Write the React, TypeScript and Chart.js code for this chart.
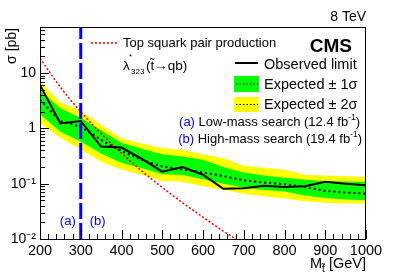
import React, { useEffect, useRef } from "react";
import { Chart, registerables } from "chart.js";

Chart.register(...registerables);

// ---- data ----
const masses = [200, 250, 300, 350, 400, 450, 500, 550, 600, 650, 700, 750, 800, 850, 900, 950, 1000];
const observed = [6.1, 1.23, 1.36, 0.47, 0.45, 0.28, 0.165, 0.2, 0.145, 0.081, 0.083, 0.092, 0.087, 0.09, 0.108, 0.1, 0.094];
const expected = [3.3, 1.35, 1.07, 0.62, 0.39, 0.27, 0.205, 0.18, 0.16, 0.137, 0.115, 0.105, 0.098, 0.088, 0.074, 0.069, 0.066];
const exp1Up = [4.9, 2.3, 1.55, 0.92, 0.55, 0.43, 0.34, 0.31, 0.27, 0.2, 0.16, 0.14, 0.128, 0.118, 0.112, 0.11, 0.108];
const exp1Down = [1.8, 0.87, 0.58, 0.35, 0.24, 0.19, 0.148, 0.143, 0.12, 0.1, 0.085, 0.077, 0.072, 0.061, 0.055, 0.052, 0.05];
const exp2Up = [7.0, 3.0, 2.05, 1.18, 0.66, 0.535, 0.44, 0.405, 0.34, 0.29, 0.21, 0.195, 0.178, 0.145, 0.14, 0.136, 0.133];
const exp2Down = [1.25, 0.68, 0.42, 0.25, 0.18, 0.145, 0.112, 0.108, 0.09, 0.078, 0.066, 0.059, 0.054, 0.048, 0.045, 0.044, 0.044];
const stopMasses = [200, 250, 300, 350, 400, 450, 500, 550, 600, 650, 700];
const stopXsec = [18.5, 5.57, 1.99, 0.807, 0.357, 0.169, 0.0856, 0.0452, 0.0248, 0.0139, 0.00815];
const boundaryMass = 300;
const xMin = 200;
const xMax = 1000;
const yMin = 0.01;
const yMax = 68;
const yTickValues = [0.01, 0.1, 1, 10];
const yTickLabels = ["10\u207B\u00B2", "10\u207B\u00B9", "1", "10"];

const FONT = "'Liberation Sans', Arial, Helvetica, sans-serif";
const BLUE = "#0000ff";

const pts = (xs: number[], ys: number[]) => xs.map((x, i) => ({ x, y: ys[i] }));

function drawPieces(ctx: CanvasRenderingContext2D, pieces: any[], xRight: number, baseline: number) {
  let total = 0;
  for (const p of pieces) {
    ctx.font = p.font;
    total += ctx.measureText(p.text).width;
  }
  let x = xRight - total;
  for (const p of pieces) {
    ctx.font = p.font;
    ctx.fillStyle = p.color || "#000";
    ctx.textAlign = "left";
    ctx.fillText(p.text, x, baseline + (p.dy || 0));
    x += ctx.measureText(p.text).width;
  }
}

const decorPlugin = {
  id: "decor",
  afterDraw(chart: any) {
    const { ctx, chartArea: a, scales } = chart;
    const xs = scales.x;
    const ys = scales.y;
    ctx.save();
    // frame
    ctx.strokeStyle = "#000";
    ctx.lineWidth = 1;
    ctx.setLineDash([]);
    ctx.strokeRect(a.left + 0.5, a.top + 0.5, a.right - a.left - 1, a.bottom - a.top);
    // y ticks (inward)
    ctx.beginPath();
    for (let k = -2; k <= 1; k++) {
      for (let m = 1; m <= 9; m++) {
        const v = m * Math.pow(10, k);
        if (v < yMin || v > yMax) continue;
        const py = Math.round(ys.getPixelForValue(v)) + 0.5;
        const len = m === 1 ? 9 : 5;
        ctx.moveTo(a.left, py);
        ctx.lineTo(a.left + len, py);
      }
    }
    // x ticks (inward)
    for (let v = xMin; v <= xMax; v += 20) {
      const px = Math.round(xs.getPixelForValue(v)) + 0.5;
      const len = v % 100 === 0 ? 9 : 5;
      ctx.moveTo(px, a.bottom);
      ctx.lineTo(px, a.bottom - len);
    }
    ctx.stroke();

    ctx.textBaseline = "alphabetic";
    // 8 TeV
    ctx.fillStyle = "#000";
    ctx.font = `14px ${FONT}`;
    ctx.textAlign = "right";
    ctx.fillText("8 TeV", a.right, 21);

    // y title
    ctx.save();
    ctx.translate(16, a.top + 1);
    ctx.rotate(-Math.PI / 2);
    ctx.textAlign = "right";
    ctx.font = `14px ${FONT}`;
    ctx.fillText("\u03C3 [pb]", 0, 0);
    ctx.restore();

    // x title
    drawPieces(ctx, [
      { text: "M", font: `14.5px ${FONT}` },
      { text: "t\u0303", font: `10px ${FONT}`, dy: 4 },
      { text: " [GeV]", font: `14.5px ${FONT}` },
    ], a.right, 268);

    // red legend
    ctx.strokeStyle = "#ff0000";
    ctx.lineWidth = 1.5;
    ctx.setLineDash([2, 2]);
    ctx.beginPath();
    ctx.moveTo(91, 43);
    ctx.lineTo(117, 43);
    ctx.stroke();
    ctx.setLineDash([]);
    ctx.fillStyle = "#000";
    ctx.textAlign = "left";
    ctx.font = `13px ${FONT}`;
    ctx.fillText("Top squark pair production", 123, 47);

    // lambda text
    ctx.textAlign = "left";
    ctx.font = `13.5px ${FONT}`;
    ctx.fillText("\u03BB", 123, 70);
    ctx.font = `8px ${FONT}`;
    ctx.fillText("*", 129, 59);
    ctx.fillText("323", 131, 74);
    ctx.font = `13.5px ${FONT}`;
    ctx.fillText("(t\u0303\u2192qb)", 146, 70);

    // CMS
    ctx.font = `bold 19px ${FONT}`;
    ctx.textAlign = "right";
    ctx.fillText("CMS", 352, 52);

    // observed legend
    ctx.strokeStyle = "#000";
    ctx.lineWidth = 2;
    ctx.beginPath();
    ctx.moveTo(235, 63);
    ctx.lineTo(258, 63);
    ctx.stroke();
    ctx.textAlign = "left";
    ctx.font = `14.5px ${FONT}`;
    ctx.fillText("Observed limit", 264, 69);

    // expected bands legend
    ctx.fillStyle = "#00ff00";
    ctx.fillRect(234, 76, 25, 16);
    ctx.fillStyle = "#ffff00";
    ctx.fillRect(234, 97, 25, 15);
    ctx.strokeStyle = "#000";
    ctx.lineWidth = 1.2;
    ctx.setLineDash([1.5, 2]);
    ctx.beginPath();
    ctx.moveTo(236, 84);
    ctx.lineTo(258, 84);
    ctx.moveTo(236, 104.5);
    ctx.lineTo(258, 104.5);
    ctx.stroke();
    ctx.setLineDash([]);
    ctx.fillStyle = "#000";
    ctx.font = `14.5px ${FONT}`;
    ctx.fillText("Expected \u00B1 1\u03C3", 264, 89);
    ctx.fillText("Expected \u00B1 2\u03C3", 264, 109);

    // (a), (b) lines
    const f = `13px ${FONT}`;
    const fs = `8.5px ${FONT}`;
    drawPieces(ctx, [
      { text: "(a)", font: f, color: BLUE },
      { text: " Low-mass search (12.4 fb", font: f },
      { text: "-1", font: fs, dy: -6 },
      { text: ")", font: f },
    ], 360, 126);
    drawPieces(ctx, [
      { text: "(b)", font: f, color: BLUE },
      { text: " High-mass search (19.4 fb", font: f },
      { text: "-1", font: fs, dy: -6 },
      { text: ")", font: f },
    ], 362, 143);

    // (a) (b) near boundary
    ctx.fillStyle = BLUE;
    ctx.font = `13px ${FONT}`;
    const bx = xs.getPixelForValue(boundaryMass);
    ctx.textAlign = "right";
    ctx.fillText("(a)", bx - 5, 225);
    ctx.textAlign = "left";
    ctx.fillText("(b)", bx + 9, 225);
    ctx.restore();
  },
};

export default function App() {
  const ref = useRef<HTMLCanvasElement>(null);
  useEffect(() => {
    if (!ref.current) return;
    const chart = new Chart(ref.current, {
      type: "line",
      data: {
        datasets: [
          { label: "boundary", data: [{ x: boundaryMass, y: yMin }, { x: boundaryMass, y: yMax }], borderColor: BLUE, borderWidth: 3, borderDash: [16, 4], pointRadius: 0, fill: false, order: 0 },
          { label: "Observed", data: pts(masses, observed), borderColor: "#000", borderWidth: 2, pointRadius: 0, fill: false, order: 1 },
          { label: "Expected", data: pts(masses, expected), borderColor: "#000", borderWidth: 2, borderDash: [2, 3], pointRadius: 0, fill: false, order: 2 },
          { label: "Stop", data: pts(stopMasses, stopXsec), borderColor: "#ff0000", borderWidth: 1.5, borderDash: [2, 2], pointRadius: 0, fill: false, order: 3, cubicInterpolationMode: "monotone" },
          { label: "g+", data: pts(masses, exp1Up), borderWidth: 0, borderColor: "rgba(0,0,0,0)", backgroundColor: "#00ff00", pointRadius: 0, fill: "+1", order: 4 },
          { label: "g-", data: pts(masses, exp1Down), borderWidth: 0, borderColor: "rgba(0,0,0,0)", pointRadius: 0, fill: false, order: 5 },
          { label: "y+", data: pts(masses, exp2Up), borderWidth: 0, borderColor: "rgba(0,0,0,0)", backgroundColor: "#ffff00", pointRadius: 0, fill: "+1", order: 6 },
          { label: "y-", data: pts(masses, exp2Down), borderWidth: 0, borderColor: "rgba(0,0,0,0)", pointRadius: 0, fill: false, order: 7 },
        ],
      },
      options: {
        animation: false,
        responsive: false,
        devicePixelRatio: 1,
        layout: { padding: { left: 0, right: 41, top: 27, bottom: 0 } },
        plugins: { legend: { display: false }, tooltip: { enabled: false } },
        scales: {
          x: {
            type: "linear",
            min: xMin,
            max: xMax,
            grid: { display: false, drawTicks: false },
            border: { display: false },
            ticks: { stepSize: 100, padding: 3, color: "#000", font: { family: FONT, size: 14.5 }, maxRotation: 0, callback: (v: any) => String(v) },
            afterFit: (s: any) => { s.height = 37; },
          },
          y: {
            type: "logarithmic",
            min: yMin,
            max: yMax,
            grid: { display: false, drawTicks: false },
            border: { display: false },
            ticks: {
              padding: 4,
              color: "#000",
              font: { family: FONT, size: 14 },
              callback: (v: any) => {
                const i = yTickValues.findIndex((t) => Math.abs(t - v) < t * 1e-6);
                return i >= 0 ? yTickLabels[i] : "";
              },
            },
            afterBuildTicks: (s: any) => { s.ticks = yTickValues.map((v) => ({ value: v })); },
            afterFit: (s: any) => { s.width = 40; },
          },
        },
      } as any,
      plugins: [decorPlugin],
    });
    return () => chart.destroy();
  }, []);
  return (
    <div style={{ position: "absolute", left: 0, top: 0, width: 407, height: 276, background: "#fff" }}>
      <canvas ref={ref} width={407} height={276} style={{ display: "block" }} />
    </div>
  );
}
